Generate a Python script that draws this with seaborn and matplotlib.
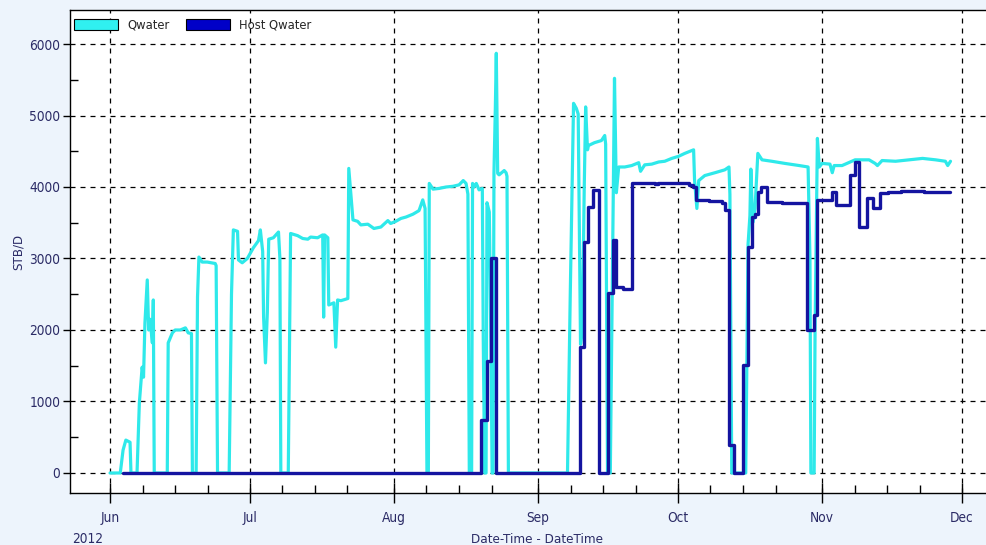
"""Qwater vs Host Qwater rate history, 2012."""

import matplotlib

matplotlib.use("Agg")

import matplotlib.dates as mdates
import matplotlib.pyplot as plt
import pandas as pd
import seaborn as sns
from matplotlib.patches import Patch

START = pd.Timestamp("2012-06-01")

# Qwater: elapsed days since 2012-06-01 and rate (STB/D)
qwater_day = [
    0.0, 2.2, 2.8, 3.4, 4.3, 4.5, 5.8, 6.3, 6.9, 7.2, 7.5, 8.0, 8.3, 8.6, 9.1, 9.3, 9.5,
    12.3, 12.5, 13.4, 14.0, 15.1, 16.2, 16.8, 17.5, 17.7, 18.5, 18.8, 19.1, 19.8, 20.9,
    22.6, 22.8, 23.1, 25.6, 26.1, 26.5, 27.4, 27.6, 28.4, 29.5, 30.8, 31.9, 32.3, 32.8,
    33.0, 33.4, 33.8, 34.1, 35.1, 36.2, 36.5, 36.7, 38.3, 38.8, 40.3, 41.4, 42.5, 43.1,
    44.6, 45.7, 45.9, 46.1, 46.8, 47.0, 48.1, 48.5, 48.9, 49.6, 51.1, 51.3, 52.2, 53.2,
    53.9, 55.4, 56.7, 58.2, 59.7, 60.3, 61.4, 62.5, 63.6, 65.1, 66.4, 67.2, 67.7, 68.1,
    68.4, 68.6, 69.4, 70.7, 72.2, 73.7, 75.0, 75.9, 76.5, 76.9, 77.2, 77.7, 77.9, 78.2,
    78.7, 79.3, 80.0, 80.2, 80.5, 80.8, 81.0, 81.5, 81.9, 82.1, 82.3, 82.5, 82.8, 83.0,
    83.3, 83.6, 84.7, 85.1, 85.3, 85.6, 98.3, 98.9, 99.6, 100.2, 100.6, 101.1, 101.5,
    101.9, 102.2, 102.6, 102.8, 104.1, 105.6, 106.3, 106.5, 106.9, 107.5, 108.0, 108.4,
    108.8, 109.3, 110.6, 112.1, 113.6, 114.0, 114.9, 116.4, 117.9, 119.2, 120.7, 122.2,
    123.5, 125.4, 125.6, 126.1, 126.5, 127.8, 130.0, 132.1, 133.0, 133.2, 133.6, 136.6,
    137.1, 137.5, 137.7, 138.1, 138.6, 139.2, 140.1, 142.2, 145.0, 148.1, 150.0, 150.4,
    150.6, 151.3, 151.5, 152.0, 152.4, 153.0, 154.7, 155.2, 155.6, 157.3, 160.1, 163.1,
    164.4, 164.9, 165.9, 168.8, 171.8, 174.6, 177.4, 179.5, 180.0, 180.6,
]
qwater_val = [
    0, 0, 320, 460, 430, 0, 0, 980, 1480, 1340, 2100, 2700, 2000, 2150, 1820, 2420, 0,
    0, 1820, 1960, 2000, 2000, 2030, 1960, 1950, 0, 0, 2460, 3020, 2950, 2950,
    2930, 2900, 0, 0, 2500, 3400, 3380, 2980, 2940, 3000, 3150, 3250, 3400, 3100,
    2180, 1540, 2250, 3270, 3290, 3370, 3000, 0, 0, 3350, 3320, 3280, 3270, 3300,
    3290, 3330, 2180, 3330, 3290, 2350, 2380, 1760, 2420, 2410, 2440, 4260, 3540, 3520,
    3470, 3480, 3420, 3440, 3530, 3490, 3520, 3560, 3580, 3620, 3670, 3820, 3700, 0,
    0, 4050, 3970, 3980, 4000, 4010, 4030, 4090, 4050, 3900, 0, 0, 4050, 4000,
    4050, 3960, 3980, 1860, 0, 0, 3780, 3650, 1500, 0, 0, 4200, 5120, 5870,
    4190, 4170, 4230, 4200, 4150, 0, 0, 2520, 5170, 5100, 5020, 1800, 2000,
    4000, 5120, 4520, 4580, 4620, 4650, 4720, 4600, 0, 0, 3000, 5520,
    3920, 4280, 4280, 4300, 4340, 4220, 4310, 4320, 4350, 4360, 4400, 4430,
    4470, 4520, 4100, 3700, 4090, 4160, 4200, 4240, 4280, 3900, 0, 0,
    3200, 3600, 4250, 3500, 3700, 4470, 4380, 4360, 4330, 4300, 4280, 3000,
    0, 0, 2000, 4680, 4280, 4330, 4320, 4200, 4300, 4300, 4380, 4380,
    4330, 4300, 4370, 4360, 4380, 4400, 4380, 4360, 4300, 4360,
]

# Host Qwater: step change points (value holds until the next day)
host_day = [
    2.8, 79.7, 80.9, 81.9, 82.9, 100.9, 101.9, 102.8, 103.8, 105.1, 107.1, 108.1,
    108.8, 110.3, 112.1, 117.0, 117.7, 124.4, 125.2, 125.9, 128.7, 131.5, 132.1,
    132.9, 134.0, 136.0, 137.1, 137.9, 138.6, 139.2, 139.9, 141.1, 144.4, 147.6,
    149.8, 151.2, 152.0, 155.2, 156.0, 159.1, 160.0, 160.9, 162.7, 164.0, 165.4,
    167.2, 170.0, 175.0, 180.6,
]
host_val = [
    0, 740, 1560, 3000, 0, 1760, 3230, 3720, 3960, 0, 2520, 3260,
    2600, 2580, 4060, 4040, 4060, 4030, 4000, 3820, 3800, 3780, 3680,
    390, 0, 1510, 3160, 3580, 3620, 3930, 4000, 3790, 3780, 3770,
    2000, 2210, 3820, 3930, 3750, 4170, 4350, 3440, 3840, 3700, 3920,
    3930, 3950, 3930, 3930,
]

CYAN = "#2ee9ea"
NAVY = "#1414a0"
LABEL = "#2b2b66"


def to_dates(days):
    return START + pd.to_timedelta(days, unit="D")


sns.set_theme(style="white")
plt.rcParams["font.family"] = ["DejaVu Sans"]
plt.rcParams["font.stretch"] = "condensed"

fig = plt.figure(figsize=(9.86, 5.45), dpi=100, facecolor="#edf4fc")
ax = fig.add_axes([0.071, 0.0954, 0.935, 0.8863])
ax.set_facecolor("white")

q_df = pd.DataFrame({"t": to_dates(qwater_day), "v": qwater_val})
h_df = pd.DataFrame({"t": to_dates(host_day), "v": host_val})

sns.lineplot(data=q_df, x="t", y="v", ax=ax, color=CYAN, linewidth=2.3,
             estimator=None, sort=False, zorder=3)
sns.lineplot(data=h_df, x="t", y="v", ax=ax, color=NAVY, linewidth=2.4,
             estimator=None, sort=False, drawstyle="steps-post", zorder=4)

ax.set_xlim(to_dates([-8.6])[0], to_dates([189.5])[0])
ax.set_ylim(-280, 6476)

ax.xaxis.set_major_locator(mdates.MonthLocator())
ax.xaxis.set_major_formatter(mdates.DateFormatter("%b"))
ax.xaxis.set_minor_locator(mdates.DayLocator(bymonthday=[8, 15, 22]))
ax.set_yticks(range(0, 6001, 1000))
ax.set_yticks(range(500, 6001, 1000), minor=True)

ax.tick_params(which="both", bottom=True, left=True, top=False, right=False)
ax.tick_params(axis="x", which="major", direction="inout", length=14, width=1,
               color="black", labelsize=9.8, labelcolor=LABEL, pad=6)
ax.tick_params(axis="x", which="minor", direction="in", length=6, width=1, color="black")
ax.tick_params(axis="y", which="major", direction="out", length=5, width=1,
               color="black", labelsize=9.8, labelcolor=LABEL, pad=2)
ax.tick_params(axis="y", which="minor", direction="in", length=6, width=1, color="black")

ax.grid(which="major", color="black", linestyle=(0, (4, 4)), linewidth=0.9)
ax.set_axisbelow(True)

for side in ("left", "bottom", "top"):
    ax.spines[side].set_color("black")
    ax.spines[side].set_linewidth(1)
ax.spines["right"].set_visible(False)

ax.set_xlabel("")
ax.set_ylabel("STB/D", color=LABEL, fontsize=9.5, labelpad=3)
fig.text(0.073, -0.002, "2012", color=LABEL, fontsize=9.8, ha="left", va="bottom")
fig.text(0.545, -0.002, "Date-Time - DateTime", color=LABEL, fontsize=9.6,
         ha="center", va="bottom")

handles = [
    Patch(facecolor="#30f0f0", edgecolor="black", linewidth=0.8, label="Qwater"),
    Patch(facecolor="#0000c8", edgecolor="black", linewidth=0.8, label="Host Qwater"),
]
ax.legend(handles=handles, loc="upper left", bbox_to_anchor=(-0.004, 0.998), ncol=2,
          frameon=False, fontsize=9.3, handlelength=3.4, handleheight=1.0,
          handletextpad=0.7, columnspacing=1.3, borderaxespad=0.2)

fig.savefig("out.png", dpi=100, facecolor=fig.get_facecolor())
